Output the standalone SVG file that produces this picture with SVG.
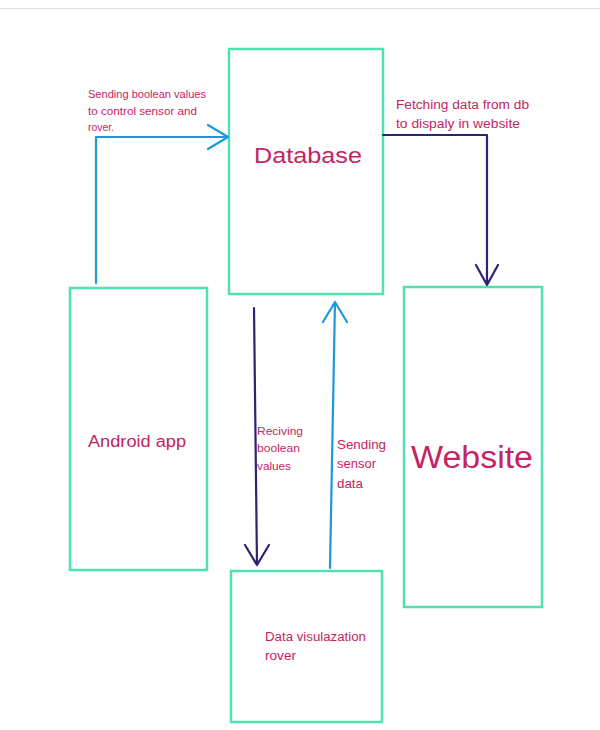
<svg xmlns="http://www.w3.org/2000/svg" width="600" height="730" viewBox="0 0 600 730">
<style>
.box{fill:#fff;stroke:#4fe0b4;stroke-width:2.5}
.t{font-family:"Liberation Sans",Arial,sans-serif;fill:#c42465}
.blue{stroke:#1e98d8;stroke-width:2.2;fill:none;stroke-linecap:round;stroke-linejoin:round}
.navy{stroke:#2c2376;stroke-width:2.2;fill:none;stroke-linecap:round;stroke-linejoin:round}
</style>
<rect width="600" height="730" fill="#fff"/>
<line x1="0" y1="8.5" x2="600" y2="8.5" stroke="#e2e2e2" stroke-width="1"/>
<g id="database">
<rect class="box" x="229" y="49" width="154" height="245"/>
<text class="t" x="254" y="163" font-size="22" textLength="108" lengthAdjust="spacingAndGlyphs">Database</text>
</g>
<g id="android">
<rect class="box" x="70" y="288" width="137" height="282"/>
<text class="t" x="88" y="447" font-size="16" textLength="98" lengthAdjust="spacingAndGlyphs">Android app</text>
</g>
<g id="website">
<rect class="box" x="404" y="287" width="138" height="320"/>
<text class="t" x="411" y="468" font-size="31" textLength="122" lengthAdjust="spacingAndGlyphs">Website</text>
</g>
<g id="rover">
<rect class="box" x="231" y="571" width="151" height="151"/>
<text class="t" x="265" y="641" font-size="12" textLength="101" lengthAdjust="spacingAndGlyphs">Data visulazation</text>
<text class="t" x="265" y="660" font-size="12" textLength="31" lengthAdjust="spacingAndGlyphs">rover</text>
</g>
<g id="connectors">
<path class="blue" d="M96 283 V137 H228 M208 125 L228 137 L208 149"/>
<path class="navy" d="M383 135 H487 V285 M476 265 L487 285 L498 265"/>
<path class="navy" d="M254 308 L257 565 M245 545 L257 565 L269 545"/>
<path class="blue" d="M330 568 L335 302 M323 322 L335 302 L347 322"/>
</g>
<g id="labels">
<text class="t" x="88" y="98" font-size="10" textLength="118" lengthAdjust="spacingAndGlyphs">Sending boolean values</text>
<text class="t" x="88" y="115" font-size="10" textLength="109" lengthAdjust="spacingAndGlyphs">to control sensor and</text>
<text class="t" x="88" y="131" font-size="10" textLength="26" lengthAdjust="spacingAndGlyphs">rover.</text>
<text class="t" x="396" y="109" font-size="12" textLength="133" lengthAdjust="spacingAndGlyphs">Fetching data from db</text>
<text class="t" x="396" y="128" font-size="12" textLength="124" lengthAdjust="spacingAndGlyphs">to dispaly in website</text>
<text class="t" x="257" y="435" font-size="11" textLength="46" lengthAdjust="spacingAndGlyphs">Reciving</text>
<text class="t" x="257" y="452" font-size="11" textLength="43" lengthAdjust="spacingAndGlyphs">boolean</text>
<text class="t" x="257" y="470" font-size="11" textLength="34" lengthAdjust="spacingAndGlyphs">values</text>
<text class="t" x="337" y="449" font-size="13" textLength="49" lengthAdjust="spacingAndGlyphs">Sending</text>
<text class="t" x="337" y="468" font-size="13" textLength="39" lengthAdjust="spacingAndGlyphs">sensor</text>
<text class="t" x="337" y="488" font-size="13" textLength="26" lengthAdjust="spacingAndGlyphs">data</text>
</g>
</svg>
